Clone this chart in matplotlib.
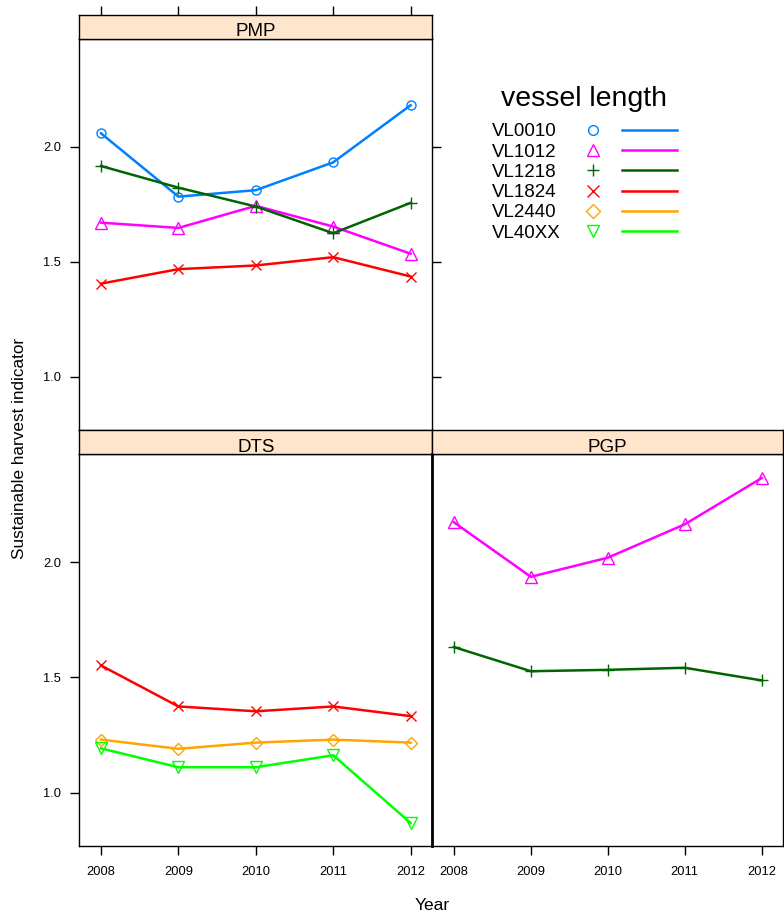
import matplotlib
matplotlib.use("Agg")
import matplotlib.pyplot as plt
from matplotlib.lines import Line2D

plt.rcParams['font.family'] = ['Liberation Sans', 'DejaVu Sans']

years = [2008, 2009, 2010, 2011, 2012]
year_labels = ["2008", "2009", "2010", "2011", "2012"]
y_ticks = [1.0, 1.5, 2.0]
y_tick_labels = ["1.0", "1.5", "2.0"]

series_names = ["VL0010", "VL1012", "VL1218", "VL1824", "VL2440", "VL40XX"]
series_colors = ["#0080ff", "#ff00ff", "#006400", "#ff0000", "#ffa500", "#00ff00"]
series_markers = ["o", "^", "+", "x", "D", "v"]
series_msize = [6.5, 8.5, 8.5, 7.5, 6.5, 8.5]

# Values per panel (fishery) and vessel length
pmp_vl0010 = [2.058, 1.783, 1.811, 1.932, 2.180]
pmp_vl1012 = [1.670, 1.647, 1.743, 1.653, 1.535]
pmp_vl1218 = [1.916, 1.822, 1.740, 1.624, 1.756]
pmp_vl1824 = [1.405, 1.468, 1.484, 1.520, 1.436]

dts_vl1824 = [1.552, 1.374, 1.353, 1.374, 1.332]
dts_vl2440 = [1.230, 1.190, 1.217, 1.230, 1.217]
dts_vl40xx = [1.192, 1.110, 1.110, 1.162, 0.868]

pgp_vl1012 = [2.174, 1.937, 2.020, 2.165, 2.366]
pgp_vl1218 = [1.632, 1.527, 1.533, 1.542, 1.487]

panels = {
    "PMP": {"VL0010": pmp_vl0010, "VL1012": pmp_vl1012,
            "VL1218": pmp_vl1218, "VL1824": pmp_vl1824},
    "DTS": {"VL1824": dts_vl1824, "VL2440": dts_vl2440, "VL40XX": dts_vl40xx},
    "PGP": {"VL1012": pgp_vl1012, "VL1218": pgp_vl1218},
}

W, H = 784, 915
fig = plt.figure(figsize=(W / 100, H / 100), dpi=100)


def px(x0, y0, x1, y1):
    return [x0 / W, 1 - y1 / H, (x1 - x0) / W, (y1 - y0) / H]


XLIM = (2007.72, 2012.28)
YLIM = (0.768, 2.469)
STRIP = "#ffe5cc"
TICKLEN = 6.5

boxes = {
    "PMP": ((79.3, 38.7, 432.3, 430.3), (79.3, 15.3, 432.3, 38.7)),
    "DTS": ((79.3, 454.3, 432.3, 846.0), (79.3, 430.3, 432.3, 454.3)),
    "PGP": ((432.3, 454.3, 783.3, 846.0), (432.3, 430.3, 783.3, 454.3)),
}

for name, (pbox, sbox) in boxes.items():
    ax = fig.add_axes(px(*pbox))
    sax = fig.add_axes(px(*sbox))
    ax.set_xlim(*XLIM)
    ax.set_ylim(*YLIM)
    for sp in ax.spines.values():
        sp.set_linewidth(1.0)
    if name == "PGP":
        ax.spines['left'].set_linewidth(2.0)
    for s in series_names:
        if s in panels[name]:
            i = series_names.index(s)
            ax.plot(years, panels[name][s], color=series_colors[i], lw=1.8,
                    marker=series_markers[i], ms=series_msize[i],
                    mfc='none', mec=series_colors[i], mew=1.0, zorder=3,
                    clip_on=False)
    ax.set_xticks(years)
    ax.set_yticks(y_ticks)
    ax.tick_params(direction='out', length=TICKLEN, width=1.0,
                   labelsize=9.3, colors='black')
    if name == "PMP":
        ax.tick_params(axis='x', bottom=False, labelbottom=False)
        ax.tick_params(axis='y', left=True, labelleft=True, right=True,
                       labelright=False, pad=6.5)
        ax.set_yticklabels(y_tick_labels)
    elif name == "DTS":
        ax.tick_params(axis='x', bottom=True, labelbottom=True, pad=8)
        ax.set_xticklabels(year_labels)
        ax.tick_params(axis='y', left=True, labelleft=True, pad=6.5)
        ax.set_yticklabels(y_tick_labels)
    else:
        ax.tick_params(axis='x', bottom=True, labelbottom=True, pad=8)
        ax.set_xticklabels(year_labels)
        ax.tick_params(axis='y', left=False, labelleft=False, right=True,
                       labelright=False)

    # strip
    sax.set_facecolor(STRIP)
    sax.set_xlim(*XLIM)
    sax.set_ylim(0, 1)
    for sp in sax.spines.values():
        sp.set_linewidth(1.0)
    sax.set_yticks([])
    if name == "PMP":
        sax.set_xticks(years)
        sax.tick_params(axis='x', bottom=False, labelbottom=False, top=True,
                        labeltop=False, direction='out', length=TICKLEN,
                        width=1.0)
    else:
        sax.set_xticks([])
    sax.text(0.5, 0.1, name, transform=sax.transAxes, ha='center',
             va='baseline', fontsize=13.5)

# axis titles
fig.text(20 / W, 1 - 448 / H, "Sustainable harvest indicator", rotation=90,
         ha='center', va='center', fontsize=12.3)
fig.text(432 / W, 1 - 905 / H, "Year", ha='center', va='center', fontsize=12.5)

# legend (key)
fig.text(584 / W, 1 - 105.7 / H, "vessel length", ha='center', va='baseline',
         fontsize=20.5)
for i, s in enumerate(series_names):
    base = 136.5 + i * 20.25
    mid = base - 6.7
    fig.text(492 / W, 1 - base / H, s, ha='left', va='baseline', fontsize=13.5)
    fig.add_artist(Line2D([592.7 / W], [1 - mid / H], marker=series_markers[i],
                          ms=series_msize[i] + 0.5, mfc='none',
                          mec=series_colors[i], mew=1.0, ls='none',
                          transform=fig.transFigure))
    fig.add_artist(Line2D([621.7 / W, 677.3 / W], [1 - mid / H, 1 - mid / H],
                          color=series_colors[i], lw=1.8,
                          transform=fig.transFigure))

fig.savefig("out.png", dpi=100)
